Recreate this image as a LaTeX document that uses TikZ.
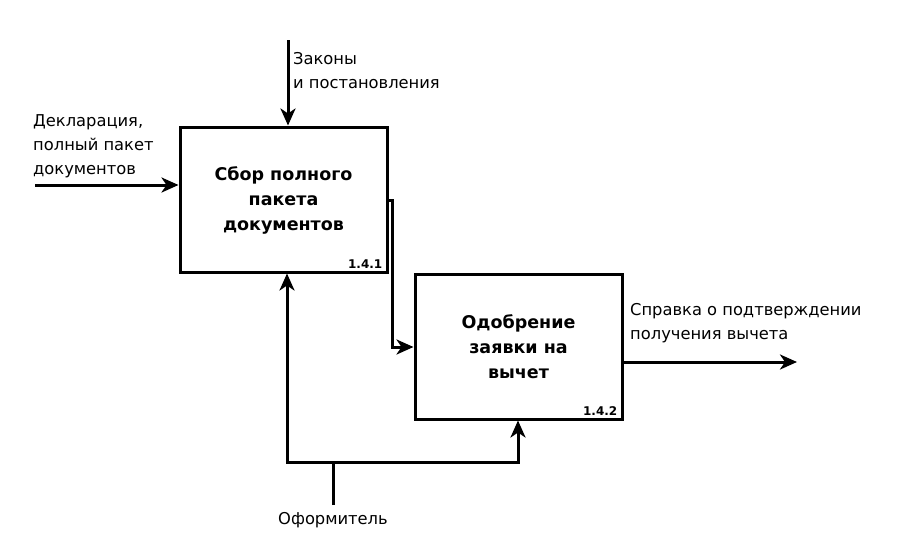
\documentclass[tikz,border=0pt]{standalone}
\usepackage{fontspec}
\setmainfont{DejaVu Sans}
\usetikzlibrary{arrows.meta}
\begin{document}
\begin{tikzpicture}[x=1pt,y=-1pt,
  line/.style={line width=3pt},
  arr/.style={line width=3pt,-{Stealth[length=17pt,width=15pt,inset=5pt]}},
  box/.style={draw,line width=3pt,minimum width=207pt,minimum height=145pt,inner sep=0pt},
  boxtext/.style={font=\bfseries\fontsize{17.5}{25}\selectfont,align=center},
  lbl/.style={font=\fontsize{16.3}{24}\selectfont,align=left,inner sep=0pt},
  num/.style={font=\bfseries\fontsize{12}{13}\selectfont,inner sep=0pt}]
\useasboundingbox (0,0) rectangle (905,555);
\node[box] (b1) at (283.5,199.5) {};
\node[box] (b2) at (518.5,346.5) {};
\node[boxtext] (t1) at (283.5,200) {Сбор полного\\пакета\\документов};
\node[boxtext] (t2) at (518.5,347) {Одобрение\\заявки на\\вычет};
\node[num,anchor=south east] (n1) at ([xshift=-6pt,yshift=5pt]b1.south east) {1.4.1};
\node[num,anchor=south east] (n2) at ([xshift=-6pt,yshift=5pt]b2.south east) {1.4.2};
% input
\coordinate (in) at (35,185);
\draw[arr] (in) -- (in -| b1.west);
\node[lbl,anchor=west] (lin) at (33,146) {Декларация,\\полный пакет\\документов};
% control
\coordinate (ctl) at (288,40);
\draw[arr] (ctl) -- (ctl |- b1.north);
\node[lbl,anchor=west] (lctl) at (293,71) {Законы\\и постановления};
% b1 -> b2
\coordinate (c1) at (392,200);
\coordinate (c2) at (392,347);
\draw[arr] (c1 -| b1.east) -- (c1) -- (c2) -- (c2 -| b2.west);
% output
\coordinate (out) at (797,362);
\draw[arr] (out -| b2.east) -- (out);
\node[lbl,anchor=west] (lout) at (630,323) {Справка о подтверждении\\получения вычета};
% mechanism
\coordinate (m0) at (333,505);
\coordinate (m1) at (333,462);
\coordinate (mL) at (287,462);
\coordinate (mR) at (518,462);
\draw[line] (m0) -- (m1);
\draw[arr] (m1) -- (mL) -- (mL |- b1.south);
\draw[arr] (m1) -- (mR) -- (mR |- b2.south);
\node[lbl,anchor=north] (lm) at (333,512) {Оформитель};
\end{tikzpicture}
\end{document}
